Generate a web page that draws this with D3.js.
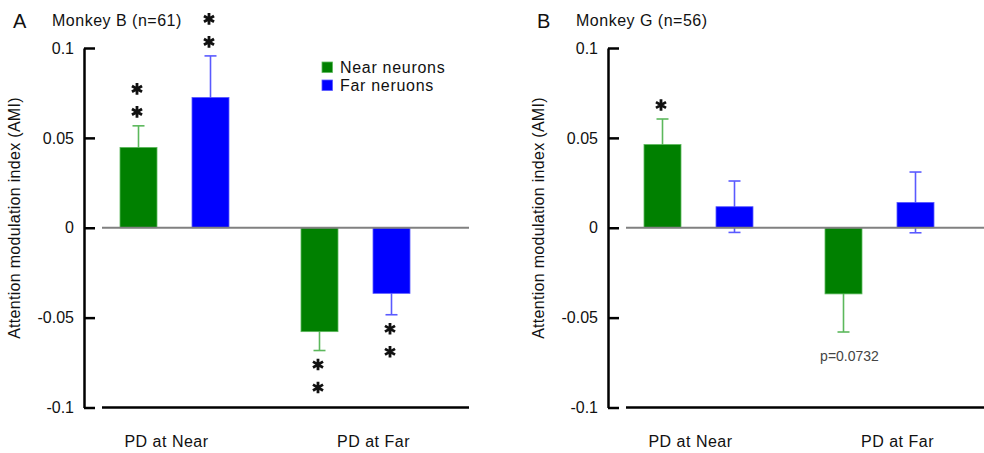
<!DOCTYPE html>
<html lang="en">
<head>
<meta charset="utf-8">
<title>AMI by monkey</title>
<script src="https://cdn.jsdelivr.net/npm/d3@7"></script>
<style>
    body { margin: 0; background: #fff; }
    svg text { font-family: "Liberation Sans", Arial, sans-serif; fill: #111; }
</style>
</head>
<body>
<script>
// data
var groups = ["PD at Near", "PD at Far"];
var series = ["Near neurons", "Far neruons"];
var seriesColors = ["#008000", "#0000ff"];
var errColors = ["#5cb85c", "#5a5aff"];
var yTicks = [0.1, 0.05, 0, -0.05, -0.1];
var yTickLabels = ["0.1", "0.05", "0", "-0.05", "-0.1"];

// Monkey B
var bNear = [0.0447, -0.0578];
var bNearSem = [0.0120, 0.0105];
var bFar = [0.0725, -0.0365];
var bFarSem = [0.0231, 0.0119];
var bStars = [[2, 2], [2, 2]];   // [series][group]

// Monkey G
var gNear = [0.0463, -0.0368];
var gNearSem = [0.0142, 0.0212];
var gFar = [0.0117, 0.0141];
var gFarSem = [0.0143, 0.0169];
var gStars = [[1, 0], [0, 0]];
var gNotes = [[null, "p=0.0732"], [null, null]];

var w = 984, h = 453;
var svg = d3.select("body").append("svg")
    .attr("width", w).attr("height", h);

var y = d3.scaleLinear().domain([-0.1, 0.1]).range([407.5, 48]);

function panel(opt) {
    var g = svg.append("g");
    var x0 = d3.scaleBand().domain(groups).range([opt.left, opt.left + 362]);
    var x1 = d3.scalePoint().domain(series).range([-36, 36]);
    var barW = 37;

    // panel letter + title
    g.append("text").attr("x", opt.left - 71).attr("y", 28)
        .style("font-size", "20px").text(opt.letter);
    g.append("text").attr("x", opt.left - 32).attr("y", 26)
        .style("font-size", "16px").style("letter-spacing", "0.5px").text(opt.title);

    // y label
    g.append("text")
        .attr("transform", "translate(" + (opt.left - 64) + "," + 218 + ") rotate(-90)")
        .attr("text-anchor", "middle")
        .style("font-size", "16px").style("letter-spacing", "0.3px")
        .text("Attention modulation index (AMI)");

    // y axis, ticks point inward
    var ax = g.append("g").attr("transform", "translate(" + opt.left + ",0)")
        .call(d3.axisLeft(y).tickValues(yTicks)
            .tickFormat(function (d, i) { return yTickLabels[i]; })
            .tickSizeInner(-11).tickSizeOuter(0).tickPadding(10));
    ax.select(".domain").attr("stroke", "#000").attr("stroke-width", 2.5);
    ax.selectAll(".tick line").attr("stroke", "#000").attr("stroke-width", 2.5);
    ax.selectAll(".tick text").style("font-size", "16px")
        .style("font-family", "'Liberation Sans', Arial, sans-serif").attr("fill", "#111");

    // bottom line
    g.append("line").attr("x1", opt.left + 18).attr("x2", opt.right)
        .attr("y1", y(-0.1)).attr("y2", y(-0.1))
        .attr("stroke", "#000").attr("stroke-width", 2.5);

    var rows = [];
    series.forEach(function (s, si) {
        groups.forEach(function (gr, gi) {
            rows.push({
                s: s, si: si, gr: gr, gi: gi,
                v: opt.vals[si][gi], e: opt.sems[si][gi],
                stars: opt.stars[si][gi],
                note: opt.notes ? opt.notes[si][gi] : null
            });
        });
    });
    function cx(d) { return x0(d.gr) + x0.bandwidth() / 2 + x1(d.s); }

    // error bars (drawn behind bars)
    var eb = g.selectAll("g.err").data(rows).enter().append("g")
        .attr("stroke", function (d) { return errColors[d.si]; })
        .attr("stroke-width", 1.6);
    eb.append("line")
        .attr("x1", cx).attr("x2", cx)
        .attr("y1", function (d) { return y(d.v - d.e); })
        .attr("y2", function (d) { return y(d.v + d.e); });
    eb.append("line")
        .attr("x1", function (d) { return cx(d) - 6; }).attr("x2", function (d) { return cx(d) + 6; })
        .attr("y1", function (d) { return y(d.v + d.e); }).attr("y2", function (d) { return y(d.v + d.e); });
    eb.append("line")
        .attr("x1", function (d) { return cx(d) - 6; }).attr("x2", function (d) { return cx(d) + 6; })
        .attr("y1", function (d) { return y(d.v - d.e); }).attr("y2", function (d) { return y(d.v - d.e); });

    g.selectAll("rect.bar").data(rows).enter().append("rect")
        .attr("x", function (d) { return cx(d) - barW / 2; })
        .attr("width", barW)
        .attr("y", function (d) { return y(Math.max(0, d.v)); })
        .attr("height", function (d) { return Math.abs(y(d.v) - y(0)); })
        .attr("fill", function (d) { return seriesColors[d.si]; })
        .attr("stroke", function (d) { return errColors[d.si]; })
        .attr("stroke-width", 0.8);

    // zero line
    g.append("line").attr("x1", opt.left + 18).attr("x2", opt.right)
        .attr("y1", y(0)).attr("y2", y(0))
        .attr("stroke", "#808080").attr("stroke-width", 2);

    // significance stars
    var star = d3.symbol().type(d3.symbolAsterisk).size(95);
    rows.forEach(function (d) {
        var sign = d.v >= 0 ? -1 : 1;
        var end = d.v >= 0 ? y(d.v + d.e) : y(d.v - d.e);
        for (var k = 0; k < d.stars; k++) {
            g.append("path").attr("d", star)
                .attr("transform", "translate(" + (cx(d) - 1.5) + "," + (end + sign * (14 + 23 * k)) + ")")
                .attr("stroke", "#111").attr("stroke-width", 2.8).attr("fill", "none");
        }
        if (d.note) {
            g.append("text").attr("x", cx(d) + 6).attr("y", y(d.v - d.e) + 29)
                .attr("text-anchor", "middle").style("font-size", "14px")
                .style("fill", "#444").text(d.note);
        }
    });

    // group labels
    var labelShift = [-8, 18];
    g.selectAll("text.grp").data(groups).enter().append("text")
        .attr("x", function (d, i) { return x0(d) + x0.bandwidth() / 2 + labelShift[i]; })
        .attr("y", 447)
        .attr("text-anchor", "middle")
        .style("font-size", "16px").style("letter-spacing", "0.5px")
        .text(function (d) { return d; });

    if (opt.legend) {
        var lg = g.append("g").attr("transform", "translate(322,62)");
        series.forEach(function (s, i) {
            lg.append("rect").attr("x", 0).attr("y", i * 18).attr("width", 10.5).attr("height", 10.5)
                .attr("fill", seriesColors[i]).attr("stroke", errColors[i]).attr("stroke-width", 0.8);
            lg.append("text").attr("x", 18).attr("y", i * 18 + 10.5)
                .style("font-size", "16px").style("letter-spacing", "0.7px").text(s);
        });
    }
}

panel({
    left: 84, right: 469, letter: "A", title: "Monkey B (n=61)",
    vals: [bNear, bFar], sems: [bNearSem, bFarSem], stars: bStars, legend: true
});
panel({
    left: 608, right: 984, letter: "B", title: "Monkey G (n=56)",
    vals: [gNear, gFar], sems: [gNearSem, gFarSem], stars: gStars, notes: gNotes
});
</script>
</body>
</html>
